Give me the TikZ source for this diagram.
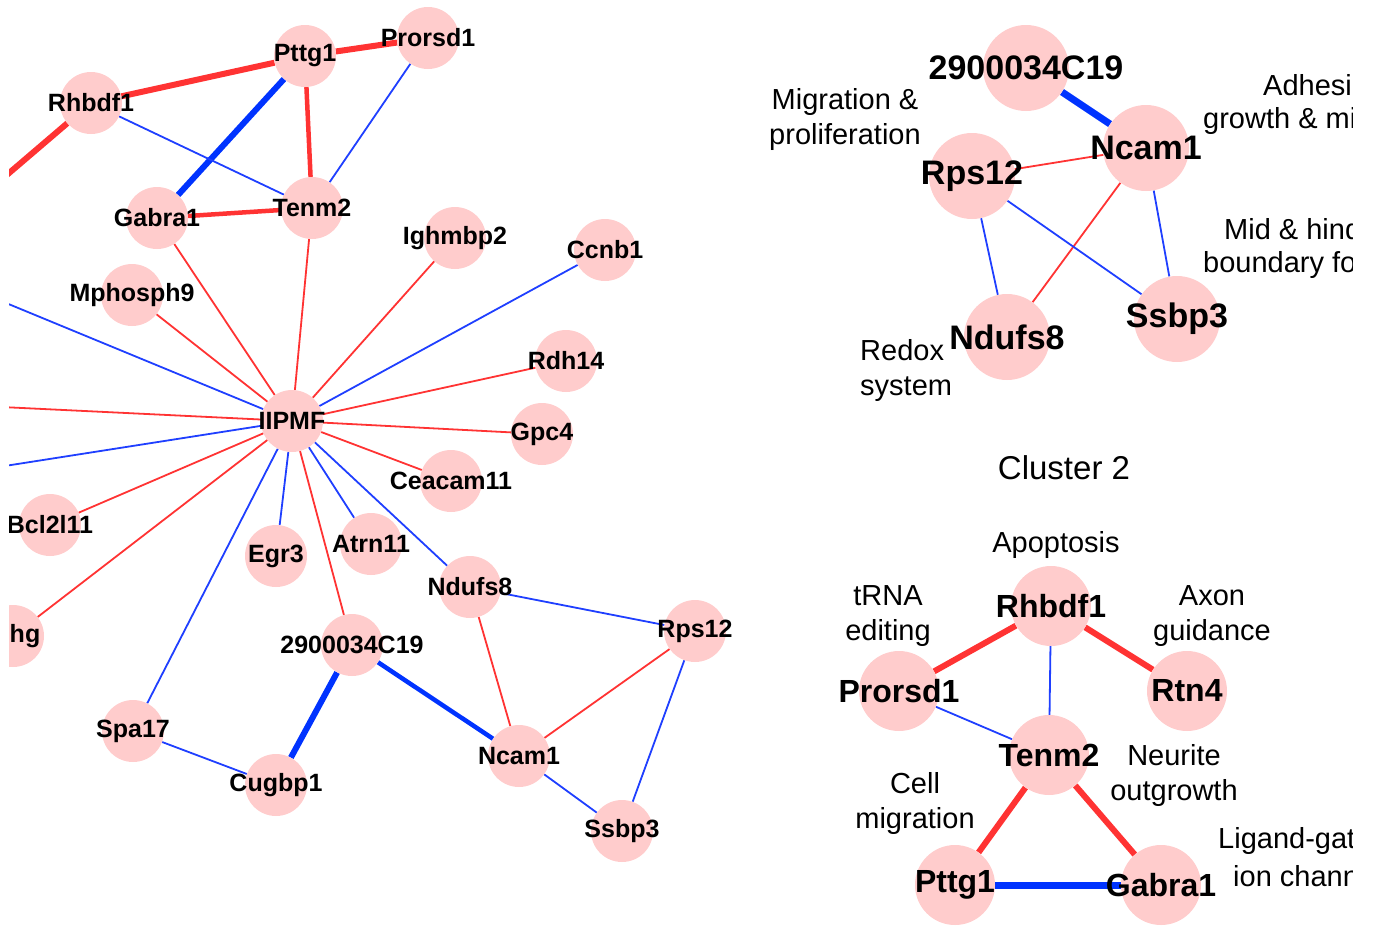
\documentclass[tikz,border=0pt]{standalone}
\usepackage{fontspec}
\setmainfont{Liberation Sans}
\usetikzlibrary{backgrounds}
\definecolor{nodePink} {HTML}{FFCCCC}
\definecolor{edgeRed}  {HTML}{FF3333}
\definecolor{edgeBlue} {HTML}{1F3FFF}
\definecolor{boldBlue} {HTML}{0033FF}
\newcommand{\gene}[4]{\node[#1] (#2) at (#3) {\makebox[0pt]{#4}};}

\begin{document}
\begin{tikzpicture}[x=1pt, y=-1pt,
  nodeL/.style     ={circle, fill=nodePink, minimum size=62pt, inner sep=0pt, font=\fontsize{25}{30}\selectfont\bfseries},
  nodeA/.style     ={circle, fill=nodePink, minimum size=86pt, inner sep=0pt, font=\fontsize{34}{40}\selectfont\bfseries},
  nodeB/.style     ={circle, fill=nodePink, minimum size=80pt, inner sep=0pt, font=\fontsize{32}{38}\selectfont\bfseries},
  note/.style      ={font=\fontsize{29}{35}\selectfont, align=center, inner sep=0pt},
  cut/.style       ={font=\fontsize{29}{35}\selectfont, anchor=west, inner sep=0pt},
  thinEdge/.style  ={line width=1.8pt},
  midEdge/.style   ={line width=4.5pt},
  thickEdge/.style ={line width=6pt},
]
\useasboundingbox (0,0) rectangle (1373,926);
\clip (9,0) rectangle (1352,926);

% full network
\gene{nodeL}{lProrsd1}{428,38}{Prorsd1}
\gene{nodeL}{lPttg1}{305,56}{Pttg1}
\gene{nodeL}{lRhbdf1}{91,103}{Rhbdf1}
\gene{nodeL}{lGabra1}{157,218}{Gabra1}
\gene{nodeL}{lTenm2}{312,208}{Tenm2}
\gene{nodeL}{lIghmbp2}{455,238}{Ighmbp2}
\gene{nodeL}{lCcnb1}{605,250}{Ccnb1}
\gene{nodeL}{lMphosph9}{132,295}{Mphosph9}
\gene{nodeL}{lRdh14}{566,361}{Rdh14}
\gene{nodeL}{lIIPMF}{292,421}{IIPMF}
\gene{nodeL}{lGpc4}{542,434}{Gpc4}
\gene{nodeL}{lCeacam11}{451,481}{Ceacam11}
\gene{nodeL}{lBcl2l11}{50,525}{Bcl2l11}
\gene{nodeL}{lEgr3}{276,556}{Egr3}
\gene{nodeL}{lAtrn11}{371,544}{Atrn11}
\gene{nodeL}{lNdufs8}{470,587}{Ndufs8}
\gene{nodeL}{lRps12}{695,631}{Rps12}
\gene{nodeL}{l2900034C19}{352,645}{2900034C19}
\gene{nodeL}{lhg}{13,636}{\hspace{24pt}hg}
\gene{nodeL}{lSpa17}{133,731}{Spa17}
\gene{nodeL}{lCugbp1}{276,785}{Cugbp1}
\gene{nodeL}{lNcam1}{519,756}{Ncam1}
\gene{nodeL}{lSsbp3}{622,831}{Ssbp3}
\coordinate (offA) at (-40,215);
\coordinate (offB) at (-40,284);
\coordinate (offC) at (-40,405);
\coordinate (offD) at (-40,473);

% cluster 1
\gene{nodeA}{a2900034C19}{1026,68}{2900034C19}
\gene{nodeA}{aNcam1}{1146,148}{Ncam1}
\gene{nodeA}{aRps12}{972,176}{Rps12}
\gene{nodeA}{aNdufs8}{1007,337}{Ndufs8}
\gene{nodeA}{aSsbp3}{1177,319}{Ssbp3}
\node[note] (migr) at (845,119) {Migration \&\\proliferation};
\node[cut] (adhA) at (1263,85) {Adhesi};
\node[cut] (adhB) at (1203,121) {growth \& mi};
\node[cut] (midA) at (1224,229) {Mid \& hind};
\node[cut] (midB) at (1203,265) {boundary fo};
\node[note, align=left, anchor=west] (redox) at (860,370) {Redox\\system};

% cluster 2
\node[note, font=\fontsize{33}{40}\selectfont] (title) at (1064,468) {Cluster 2};
\gene{nodeB}{bRhbdf1}{1051,606}{Rhbdf1}
\gene{nodeB}{bProrsd1}{899,691}{Prorsd1}
\gene{nodeB}{bRtn4}{1187,691}{Rtn4}
\gene{nodeB}{bTenm2}{1049,755}{Tenm2}
\gene{nodeB}{bPttg1}{955,885}{Pttg1}
\gene{nodeB}{bGabra1}{1161,885}{Gabra1}
\node[note] (apop) at (1056,545) {Apoptosis};
\node[note] (trna) at (888,616) {tRNA\\editing};
\node[note] (axon) at (1212,616) {Axon\\guidance};
\node[note] (neur) at (1174,775) {Neurite\\outgrowth};
\node[note] (cell) at (915,803) {Cell\\migration};
\node[cut] (ligA) at (1218,841) {Ligand-gat};
\node[cut] (ligB) at (1233,876) {ion chann};

\begin{pgfonlayer}{background}
\clip (9,0) rectangle (1352,926);
\foreach \tgt/\col in {lGabra1/edgeRed, lTenm2/edgeRed, lIghmbp2/edgeRed, lCcnb1/edgeBlue,
    lMphosph9/edgeRed, lRdh14/edgeRed, lGpc4/edgeRed, lCeacam11/edgeRed, lNdufs8/edgeBlue,
    lAtrn11/edgeBlue, lEgr3/edgeBlue, l2900034C19/edgeRed, lSpa17/edgeBlue, lhg/edgeRed,
    lBcl2l11/edgeRed, offB/edgeBlue, offC/edgeRed, offD/edgeBlue}
  \draw[thinEdge, \col] (lIIPMF) -- (\tgt);
\draw[thickEdge, edgeRed]  (lRhbdf1) -- (lPttg1);
\draw[thickEdge, edgeRed]  (lPttg1) -- (lProrsd1);
\draw[thickEdge, edgeRed]  (lRhbdf1) -- (offA);
\draw[thickEdge, boldBlue] (lPttg1) -- (lGabra1);
\draw[midEdge, edgeRed]    (lPttg1) -- (lTenm2);
\draw[midEdge, edgeRed]    (lGabra1) -- (lTenm2);
\draw[thinEdge, edgeBlue]  (lProrsd1) -- (lTenm2);
\draw[thinEdge, edgeBlue]  (lRhbdf1) -- (lTenm2);
\draw[thickEdge, boldBlue] (l2900034C19) -- (lCugbp1);
\draw[midEdge, boldBlue]   (l2900034C19) -- (lNcam1);
\draw[thinEdge, edgeBlue]  (lSpa17) -- (lCugbp1);
\draw[thinEdge, edgeBlue]  (lNdufs8) -- (lRps12);
\draw[thinEdge, edgeRed]   (lNdufs8) -- (lNcam1);
\draw[thinEdge, edgeRed]   (lRps12) -- (lNcam1);
\draw[thinEdge, edgeBlue]  (lRps12) -- (lSsbp3);
\draw[thinEdge, edgeBlue]  (lNcam1) -- (lSsbp3);
% cluster 1
\draw[line width=7pt, boldBlue] (a2900034C19) -- (aNcam1);
\draw[thinEdge, edgeRed]   (aRps12) -- (aNcam1);
\draw[thinEdge, edgeRed]   (aNcam1) -- (aNdufs8);
\draw[thinEdge, edgeBlue]  (aNcam1) -- (aSsbp3);
\draw[thinEdge, edgeBlue]  (aRps12) -- (aNdufs8);
\draw[thinEdge, edgeBlue]  (aRps12) -- (aSsbp3);
% cluster 2
\draw[thickEdge, edgeRed]  (bRhbdf1) -- (bProrsd1);
\draw[thickEdge, edgeRed]  (bRhbdf1) -- (bRtn4);
\draw[thinEdge, edgeBlue]  (bRhbdf1) -- (bTenm2);
\draw[thinEdge, edgeBlue]  (bProrsd1) -- (bTenm2);
\draw[thickEdge, edgeRed]  (bTenm2) -- (bPttg1);
\draw[thickEdge, edgeRed]  (bTenm2) -- (bGabra1);
\draw[line width=7pt, boldBlue] (bPttg1) -- (bGabra1);
\end{pgfonlayer}
\end{tikzpicture}
\end{document}
